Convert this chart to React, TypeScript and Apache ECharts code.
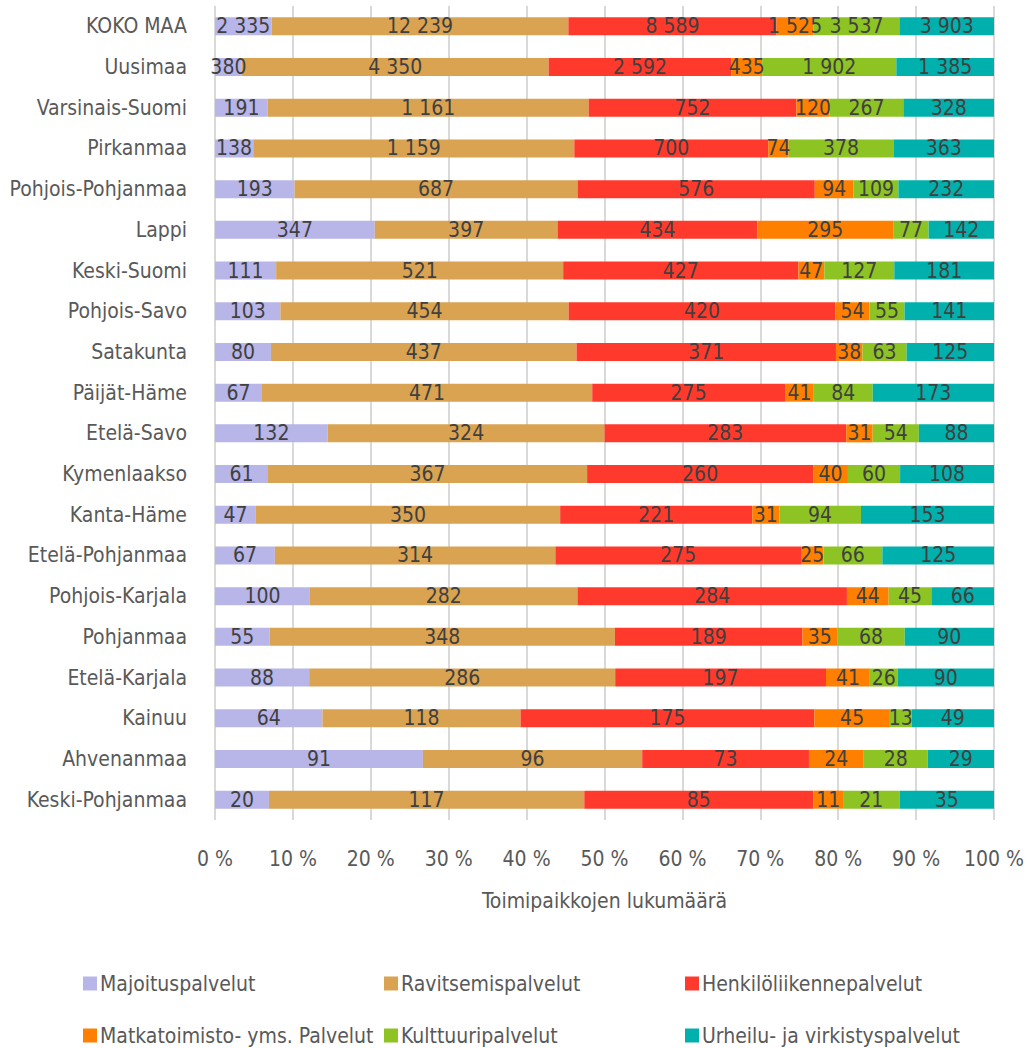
import React, { useEffect, useRef } from "react";
import * as echarts from "echarts";

const categories = [
  "KOKO MAA", "Uusimaa", "Varsinais-Suomi", "Pirkanmaa", "Pohjois-Pohjanmaa", "Lappi",
  "Keski-Suomi", "Pohjois-Savo", "Satakunta", "Päijät-Häme", "Etelä-Savo", "Kymenlaakso",
  "Kanta-Häme", "Etelä-Pohjanmaa", "Pohjois-Karjala", "Pohjanmaa", "Etelä-Karjala", "Kainuu",
  "Ahvenanmaa", "Keski-Pohjanmaa",
];

const seriesNames = [
  "Majoituspalvelut", "Ravitsemispalvelut", "Henkilöliikennepalvelut",
  "Matkatoimisto- yms. Palvelut", "Kulttuuripalvelut", "Urheilu- ja virkistyspalvelut",
];

const majoitus = [2335, 380, 191, 138, 193, 347, 111, 103, 80, 67, 132, 61, 47, 67, 100, 55, 88, 64, 91, 20];
const ravitsemis = [12239, 4350, 1161, 1159, 687, 397, 521, 454, 437, 471, 324, 367, 350, 314, 282, 348, 286, 118, 96, 117];
const henkilo = [8589, 2592, 752, 700, 576, 434, 427, 420, 371, 275, 283, 260, 221, 275, 284, 189, 197, 175, 73, 85];
const matkatoimisto = [1525, 435, 120, 74, 94, 295, 47, 54, 38, 41, 31, 40, 31, 25, 44, 35, 41, 45, 24, 11];
const kulttuuri = [3537, 1902, 267, 378, 109, 77, 127, 55, 63, 84, 54, 60, 94, 66, 45, 68, 26, 13, 28, 21];
const urheilu = [3903, 1385, 328, 363, 232, 142, 181, 141, 125, 173, 88, 108, 153, 125, 66, 90, 90, 49, 29, 35];

const xTicks = [0, 10, 20, 30, 40, 50, 60, 70, 80, 90, 100];

const colors = ["#b8b5e8", "#d9a352", "#ff3a2c", "#ff7f00", "#8dc423", "#00b0ad"];

const FONT = "'DejaVu Sans Condensed', 'Liberation Sans Narrow', sans-serif";
const TEXT = "#404040";

function fmt(n: number): string {
  return String(n).replace(/\B(?=(\d{3})+(?!\d))/g, " ");
}

export default function App() {
  const ref = useRef<HTMLDivElement>(null);
  useEffect(() => {
    document.body.style.margin = "0";
    if (!ref.current) return;
    const chart = echarts.init(ref.current, undefined, { renderer: "svg" });
    const all = [majoitus, ravitsemis, henkilo, matkatoimisto, kulttuuri, urheilu];
    const totals = categories.map((_, i) => all.reduce((s, arr) => s + arr[i], 0));

    const series = all.map((arr, si) => ({
      name: seriesNames[si],
      type: "bar",
      stack: "total",
      barWidth: 18,
      itemStyle: { color: colors[si] },
      label: {
        show: true,
        position: "inside",
        color: TEXT,
        fontFamily: FONT,
        fontSize: 21,
        formatter: (p: any) => fmt(arr[p.dataIndex]),
      },
      data: arr.map((v, i) => (v / totals[i]) * 100),
    }));

    const legendPos = [
      { left: 78, top: 968 },
      { left: 379, top: 968 },
      { left: 680, top: 968 },
      { left: 78, top: 1020 },
      { left: 379, top: 1020 },
      { left: 680, top: 1020 },
    ];

    chart.setOption({
      animation: false,
      backgroundColor: "#ffffff",
      grid: { left: 215, right: 32, top: 6, height: 814, containLabel: false },
      legend: seriesNames.map((n, i) => ({
        data: [n],
        left: legendPos[i].left,
        top: legendPos[i].top,
        itemWidth: 14,
        itemHeight: 14,
        icon: "rect",
        itemGap: 4,
        textStyle: { color: "#595959", fontFamily: FONT, fontSize: 21, padding: [0, 0, 0, -2] },
      })),
      xAxis: {
        type: "value",
        min: xTicks[0],
        max: xTicks[xTicks.length - 1],
        interval: 10,
        name: "Toimipaikkojen lukumäärä",
        nameLocation: "middle",
        nameGap: 70,
        nameTextStyle: { color: "#595959", fontFamily: FONT, fontSize: 21 },
        axisLine: { show: false },
        axisTick: { show: false },
        axisLabel: { color: "#595959", fontFamily: FONT, fontSize: 21, margin: 28, formatter: (v: number) => `${v} %` },
        splitLine: { show: true, lineStyle: { color: "#d9d9d9", width: 2 } },
      },
      yAxis: {
        type: "category",
        inverse: true,
        data: categories,
        axisLine: { show: false },
        axisTick: { show: false },
        axisLabel: { color: "#595959", fontFamily: FONT, fontSize: 21, margin: 28 },
      },
      series,
    });
    return () => chart.dispose();
  }, []);
  return <div ref={ref} style={{ width: 1027, height: 1048 }} />;
}
